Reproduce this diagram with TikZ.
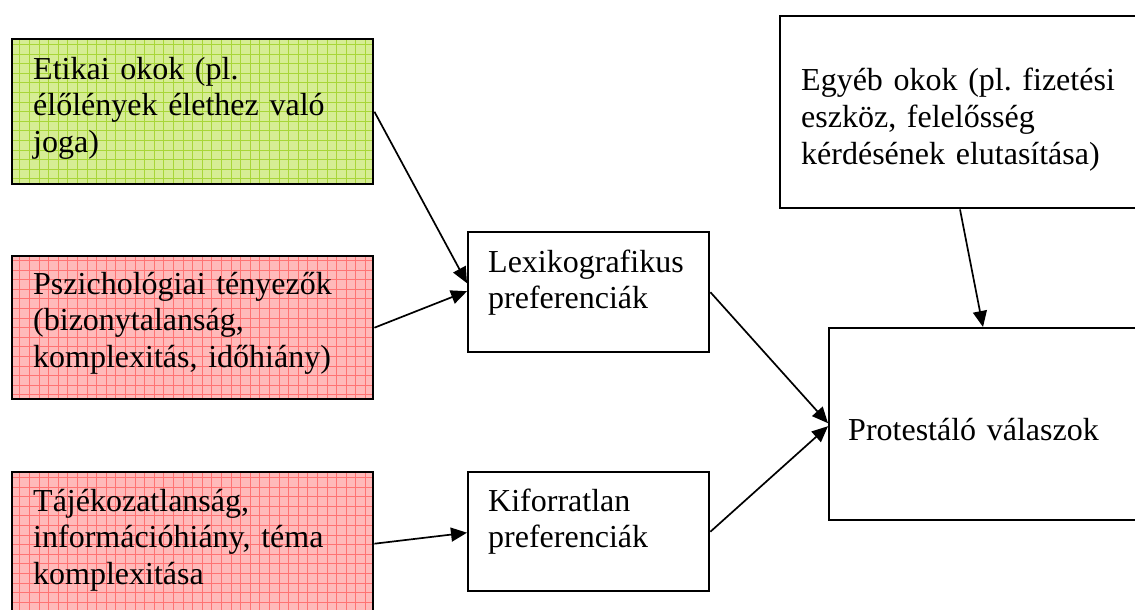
\documentclass[tikz,border=0pt]{standalone}
\usepackage{fontspec}
\setmainfont{Liberation Serif}
\frenchspacing
\usetikzlibrary{arrows.meta,calc}
\definecolor{grnbg}{rgb}{0.84,0.93,0.58}
\definecolor{grnln}{rgb}{0.66,0.84,0.22}
\definecolor{redbg}{rgb}{1,0.73,0.73}
\definecolor{redln}{rgb}{1,0.45,0.45}
\tikzset{
  box/.style={draw=black, line width=2.4pt, rectangle, inner sep=0pt, anchor=north west},
  greengrid/.style={fill=grnbg, path picture={\draw[grnln, line width=0.9pt] (path picture bounding box.south west) grid[step=9.6pt] (path picture bounding box.north east);}},
  redgrid/.style={fill=redbg, path picture={\draw[redln, line width=0.9pt] (path picture bounding box.south west) grid[step=9.6pt] (path picture bounding box.north east);}},
  lbl/.style={anchor=base west, inner sep=0pt, text width=340pt, align=left, font=\fontsize{32}{36.8}\selectfont\frenchspacing},
  conn/.style={line width=1.7pt, -{Triangle[length=16pt, width=14pt]}}
}
\begin{document}
\begin{tikzpicture}[x=1pt, y=-1pt]
\useasboundingbox (0,0) rectangle (1135,610);
\clip (0,0) rectangle (1135,610);
\fill[white] (0,0) rectangle (1135,610);
% boxes
\node[box, greengrid, minimum width=361pt, minimum height=145pt] (eti) at (11,38) {};
\node[box, redgrid, minimum width=361pt, minimum height=143pt] (psz) at (11,255) {};
\node[box, redgrid, minimum width=361pt, minimum height=145pt] (taj) at (11,471) {};
\node[box, minimum width=241pt, minimum height=120pt] (lex) at (467,231) {};
\node[box, minimum width=241pt, minimum height=119pt] (kif) at (467,471) {};
\node[box, minimum width=380pt, minimum height=192pt] (egy) at (779,15) {};
\node[box, minimum width=330pt, minimum height=192pt] (pro) at (828,327) {};
% texts
\node[lbl] (etit) at ($(eti.north west)+(22,41)$) {Etikai okok (pl.\\ élőlények élethez való\\ joga)};
\node[lbl] (pszt) at ($(psz.north west)+(22,39)$) {Pszichológiai tényezők\\ (bizonytalanság,\\ komplexitás, időhiány)};
\node[lbl] (tajt) at ($(taj.north west)+(22,40)$) {Tájékozatlanság,\\ információhiány, téma\\ komplexitása};
\node[lbl] (lext) at ($(lex.north west)+(21,41)$) {Lexikografikus\\ preferenciák};
\node[lbl] (kift) at ($(kif.north west)+(21,40)$) {Kiforratlan\\ preferenciák};
\node[lbl] (egyt) at ($(egy.north west)+(22,76)$) {Egyéb okok (pl. fizetési\\ eszköz, felelősség\\ kérdésének elutasítása)};
\node[lbl] (prot) at ($(pro.north west)+(20,113)$) {Protestáló válaszok};
% connectors
\draw[conn] (eti.east) -- ([yshift=9pt]lex.west);
\draw[conn] (psz.east) -- ([yshift=1pt]lex.west);
\draw[conn] ([yshift=1pt]taj.east) -- ([yshift=-1pt]kif.west);
\draw[conn] (lex.east) -- ([yshift=1pt]pro.west);
\draw[conn] (kif.east) -- ([yshift=-2pt]pro.west);
\draw[conn] ([xshift=181pt]egy.south west) -- ([xshift=155pt]pro.north west);
\end{tikzpicture}
\end{document}
